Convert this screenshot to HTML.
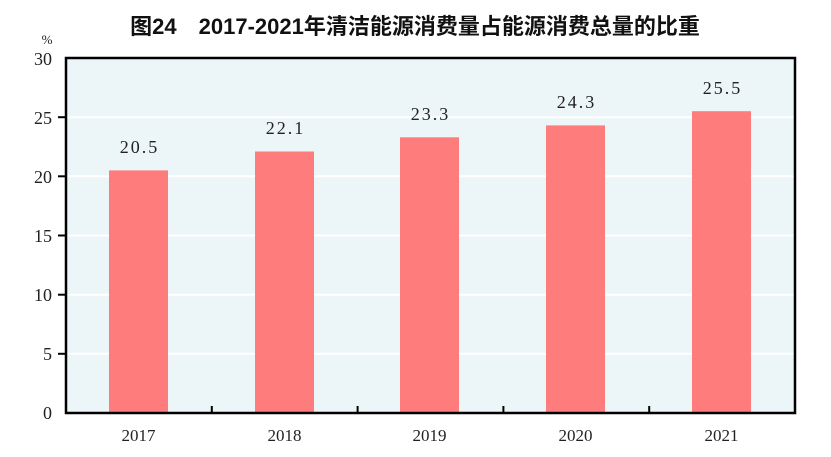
<!DOCTYPE html>
<html><head><meta charset="utf-8"><style>
body{margin:0;background:#fff;}
svg{display:block}
</style></head><body>
<svg width="831" height="457" xmlns="http://www.w3.org/2000/svg">
<text x="415" y="34" text-anchor="middle" font-family="'Liberation Sans','Noto Sans CJK SC',sans-serif" font-size="22" font-weight="bold" fill="#111">图24　2017-2021年清洁能源消费量占能源消费总量的比重</text>
<rect x="66" y="58" width="729" height="355" fill="#ECF5F8"/>
<g stroke="#fff" stroke-width="2">
<line x1="66" x2="795" y1="117.2" y2="117.2"/>
<line x1="66" x2="795" y1="176.3" y2="176.3"/>
<line x1="66" x2="795" y1="235.5" y2="235.5"/>
<line x1="66" x2="795" y1="294.7" y2="294.7"/>
<line x1="66" x2="795" y1="353.8" y2="353.8"/>
</g>
<g fill="#FF7C7C">
<rect x="109" y="170.4" width="59" height="242.6"/>
<rect x="255" y="151.5" width="59" height="261.5"/>
<rect x="400" y="137.3" width="59" height="275.7"/>
<rect x="546" y="125.4" width="59" height="287.6"/>
<rect x="692" y="111.2" width="59" height="301.8"/>
</g>
<rect x="66" y="58" width="729" height="355" fill="none" stroke="#000" stroke-width="2.5"/>
<g stroke="#000" stroke-width="2">
<line x1="58" x2="66" y1="117.2" y2="117.2"/>
<line x1="58" x2="66" y1="176.3" y2="176.3"/>
<line x1="58" x2="66" y1="235.5" y2="235.5"/>
<line x1="58" x2="66" y1="294.7" y2="294.7"/>
<line x1="58" x2="66" y1="353.8" y2="353.8"/>
<line x1="211.8" x2="211.8" y1="406" y2="413"/>
<line x1="357.6" x2="357.6" y1="406" y2="413"/>
<line x1="503.4" x2="503.4" y1="406" y2="413"/>
<line x1="649.2" x2="649.2" y1="406" y2="413"/>
</g>
<g font-family="'Liberation Serif',serif" font-size="18" fill="#222" text-anchor="end">
<text x="52" y="65">30</text>
<text x="52" y="124">25</text>
<text x="52" y="183">20</text>
<text x="52" y="242">15</text>
<text x="52" y="301">10</text>
<text x="52" y="360">5</text>
<text x="52" y="419">0</text>
</g>
<text x="47" y="44" font-family="'Liberation Serif',serif" font-size="13" fill="#222" text-anchor="middle">%</text>
<g font-family="'Liberation Serif',serif" font-size="17" fill="#222" text-anchor="middle">
<text x="138.5" y="441">2017</text>
<text x="284.5" y="441">2018</text>
<text x="429.5" y="441">2019</text>
<text x="575.5" y="441">2020</text>
<text x="721.5" y="441">2021</text>
</g>
<g font-family="'Liberation Serif',serif" font-size="18" fill="#222" text-anchor="middle" letter-spacing="2">
<text x="139.5" y="153">20.5</text>
<text x="285.5" y="134">22.1</text>
<text x="430.5" y="120">23.3</text>
<text x="576.5" y="108">24.3</text>
<text x="722.5" y="94">25.5</text>
</g>
</svg>
</body></html>
